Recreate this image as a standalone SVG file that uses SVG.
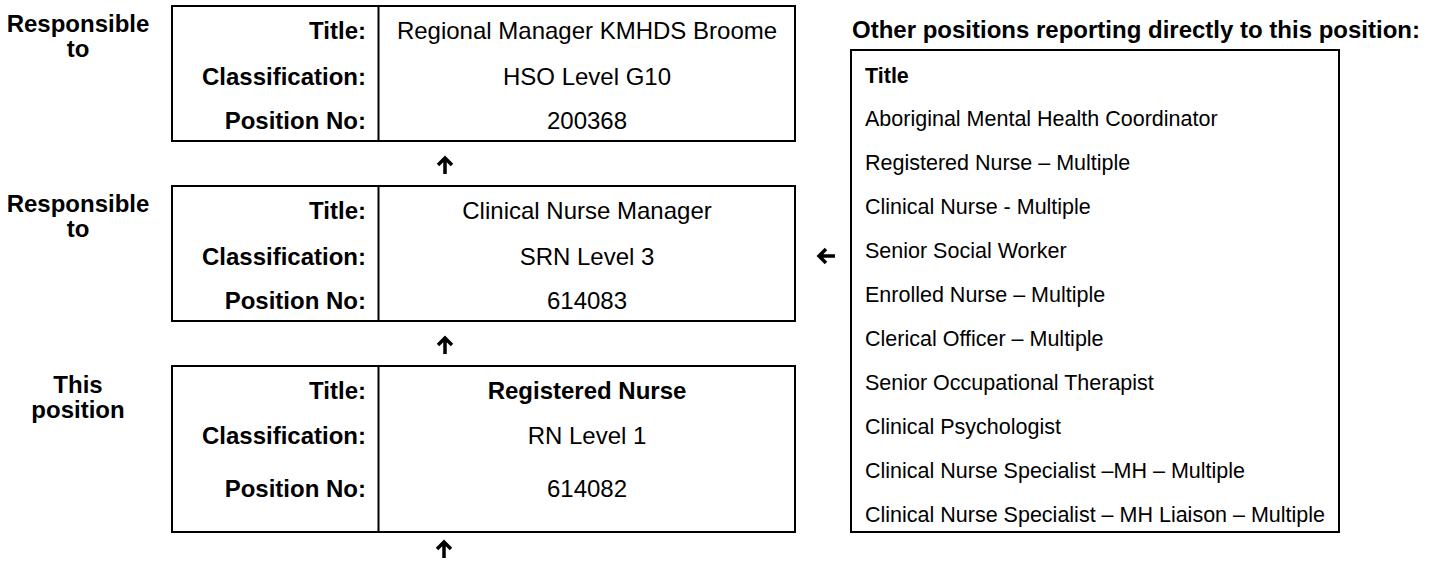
<svg xmlns="http://www.w3.org/2000/svg" width="1436" height="567" viewBox="0 0 1436 567">
<style>
text{font-family:"Liberation Sans",Arial,sans-serif;font-size:24px;fill:#000}
.b{font-weight:bold}
.lab{font-weight:bold;text-anchor:end}
.val{text-anchor:middle}
.side{font-weight:bold;text-anchor:middle}
.li{font-size:21.5px}
.box{fill:#fff;stroke:#000;stroke-width:2}
.div{stroke:#000;stroke-width:2}
.arr{fill:none;stroke:#000;stroke-width:3.5;stroke-linecap:butt;stroke-linejoin:miter}
</style>
<rect width="1436" height="567" fill="#fff"/>
<g id="node-regional-manager">
<text class="side" x="78" y="32">Responsible</text>
<text class="side" x="78" y="57">to</text>
<rect class="box" x="172" y="6" width="623" height="135"/>
<line class="div" x1="378.5" y1="6" x2="378.5" y2="141"/>
<text class="lab" x="366" y="39">Title:</text>
<text class="lab" x="366" y="84.5">Classification:</text>
<text class="lab" x="366" y="128.5">Position No:</text>
<text class="val" x="587" y="39">Regional Manager KMHDS Broome</text>
<text class="val" x="587" y="84.5">HSO Level G10</text>
<text class="val" x="587" y="128.5">200368</text>
</g>
<g id="node-clinical-nurse-manager">
<text class="side" x="78" y="212">Responsible</text>
<text class="side" x="78" y="237">to</text>
<rect class="box" x="172" y="186" width="623" height="135"/>
<line class="div" x1="378.5" y1="186" x2="378.5" y2="321"/>
<text class="lab" x="366" y="219">Title:</text>
<text class="lab" x="366" y="264.5">Classification:</text>
<text class="lab" x="366" y="308.5">Position No:</text>
<text class="val" x="587" y="219">Clinical Nurse Manager</text>
<text class="val" x="587" y="264.5">SRN Level 3</text>
<text class="val" x="587" y="308.5">614083</text>
</g>
<g id="node-this-position">
<text class="side" x="78" y="393">This</text>
<text class="side" x="78" y="418">position</text>
<rect class="box" x="172" y="366" width="623" height="166"/>
<line class="div" x1="378.5" y1="366" x2="378.5" y2="532"/>
<text class="lab" x="366" y="399">Title:</text>
<text class="lab" x="366" y="444">Classification:</text>
<text class="lab" x="366" y="497">Position No:</text>
<text class="val b" x="587" y="399">Registered Nurse</text>
<text class="val" x="587" y="444">RN Level 1</text>
<text class="val" x="587" y="497">614082</text>
</g>
<g id="node-other-positions">
<text class="b" x="852" y="38">Other positions reporting directly to this position:</text>
<rect class="box" x="851" y="50" width="488" height="482"/>
<text class="b li" x="865" y="83">Title</text>
<text class="li" x="865" y="126">Aboriginal Mental Health Coordinator</text>
<text class="li" x="865" y="170">Registered Nurse – Multiple</text>
<text class="li" x="865" y="214">Clinical Nurse - Multiple</text>
<text class="li" x="865" y="258">Senior Social Worker</text>
<text class="li" x="865" y="302">Enrolled Nurse – Multiple</text>
<text class="li" x="865" y="346">Clerical Officer – Multiple</text>
<text class="li" x="865" y="390">Senior Occupational Therapist</text>
<text class="li" x="865" y="434">Clinical Psychologist</text>
<text class="li" x="865" y="478">Clinical Nurse Specialist –MH – Multiple</text>
<text class="li" x="865" y="522">Clinical Nurse Specialist – MH Liaison – Multiple</text>
</g>
<g id="connectors">
<path class="arr" d="M445 174 V158 M438 165 L445 158 L452 165"/>
<path class="arr" d="M445 354 V338 M438 345 L445 338 L452 345"/>
<path class="arr" d="M444 558 V542 M437 549 L444 542 L451 549"/>
<path class="arr" d="M835 256 H819 M826 249 L819 256 L826 263"/>
</g>
</svg>
